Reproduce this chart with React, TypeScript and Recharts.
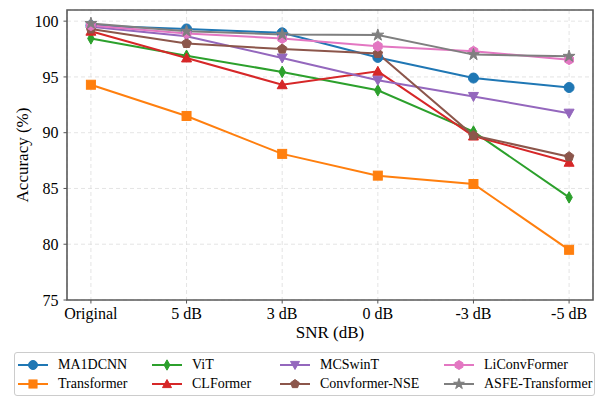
import type { FC, ReactElement } from "react";
import {
  LineChart,
  Line,
  XAxis,
  YAxis,
  CartesianGrid,
  ReferenceArea,
} from "recharts";

// SNR conditions on the x axis
const snrLabels = ["Original", "5 dB", "3 dB", "0 dB", "-3 dB", "-5 dB"];
const yTicks = [75, 80, 85, 90, 95, 100];

// accuracy (%) per model
const ma1dcnn = [99.6, 99.3, 98.95, 96.75, 94.9, 94.05];
const transformer = [94.3, 91.5, 88.1, 86.15, 85.4, 79.5];
const vit = [98.45, 96.9, 95.45, 93.8, 90.1, 84.2];
const clformer = [99.1, 96.7, 94.3, 95.5, 89.7, 87.35];
const mcswint = [99.5, 98.65, 96.7, 94.7, 93.25, 91.75];
const convformerNse = [99.3, 98.0, 97.5, 97.1, 89.75, 87.85];
const liconvformer = [99.6, 98.9, 98.45, 97.75, 97.3, 96.55];
const asfeTransformer = [99.8, 99.1, 98.8, 98.75, 97.0, 96.85];

type MarkerKind = "circle" | "square" | "thinDiamond" | "triUp" | "triDown" | "pentagon" | "hexagon" | "star";

interface Series {
  key: string;
  name: string;
  values: number[];
  color: string;
  marker: MarkerKind;
}

const series: Series[] = [
  { key: "ma1dcnn", name: "MA1DCNN", values: ma1dcnn, color: "#1f77b4", marker: "circle" },
  { key: "transformer", name: "Transformer", values: transformer, color: "#ff7f0e", marker: "square" },
  { key: "vit", name: "ViT", values: vit, color: "#2ca02c", marker: "thinDiamond" },
  { key: "clformer", name: "CLFormer", values: clformer, color: "#d62728", marker: "triUp" },
  { key: "mcswint", name: "MCSwinT", values: mcswint, color: "#9467bd", marker: "triDown" },
  { key: "convformerNse", name: "Convformer-NSE", values: convformerNse, color: "#8c564b", marker: "pentagon" },
  { key: "liconvformer", name: "LiConvFormer", values: liconvformer, color: "#e377c2", marker: "hexagon" },
  { key: "asfeTransformer", name: "ASFE-Transformer", values: asfeTransformer, color: "#7f7f7f", marker: "star" },
];

const data = snrLabels.map((label, i) => {
  const row: Record<string, number | string> = { x: i, label };
  series.forEach((s) => {
    row[s.key] = s.values[i];
  });
  return row;
});

const FONT = "Liberation Serif, Tinos, DejaVu Serif, serif";
const MARKER_SIZE = 10;

const polygon = (cx: number, cy: number, r: number, n: number, rot: number) =>
  Array.from({ length: n }, (_, k) => {
    const a = rot + (k * 2 * Math.PI) / n;
    return `${cx + r * Math.cos(a)},${cy + r * Math.sin(a)}`;
  }).join(" ");

const starPoints = (cx: number, cy: number, r: number) =>
  Array.from({ length: 10 }, (_, k) => {
    const a = -Math.PI / 2 + (k * Math.PI) / 5;
    const rr = k % 2 === 0 ? r : r * 0.382;
    return `${cx + rr * Math.cos(a)},${cy + rr * Math.sin(a)}`;
  }).join(" ");

const Marker: FC<{ kind: MarkerKind; cx: number; cy: number; color: string; size?: number }> = ({
  kind,
  cx,
  cy,
  color,
  size = MARKER_SIZE,
}) => {
  const h = size / 2;
  const common = { fill: color, stroke: color, strokeWidth: 1 };
  switch (kind) {
    case "circle":
      return <circle cx={cx} cy={cy} r={h} {...common} />;
    case "square":
      return <rect x={cx - h * 0.9} y={cy - h * 0.9} width={size * 0.9} height={size * 0.9} {...common} />;
    case "thinDiamond":
      return (
        <polygon
          points={`${cx},${cy - h * 1.15} ${cx + h * 0.65},${cy} ${cx},${cy + h * 1.15} ${cx - h * 0.65},${cy}`}
          {...common}
        />
      );
    case "triUp":
      return <polygon points={`${cx},${cy - h} ${cx + h},${cy + h * 0.8} ${cx - h},${cy + h * 0.8}`} {...common} />;
    case "triDown":
      return <polygon points={`${cx},${cy + h} ${cx + h},${cy - h * 0.8} ${cx - h},${cy - h * 0.8}`} {...common} />;
    case "pentagon":
      return <polygon points={polygon(cx, cy, h, 5, -Math.PI / 2)} {...common} />;
    case "hexagon":
      return <polygon points={polygon(cx, cy, h, 6, -Math.PI / 2)} {...common} />;
    case "star":
      return <polygon points={starPoints(cx, cy, h * 1.25)} {...common} />;
  }
};

const legendCols = [18, 152, 280, 444];
const legendRows = [364, 383];

const ChartLegend: FC = () => (
  <div
    style={{
      position: "absolute",
      left: 14,
      top: 352,
      width: 581,
      height: 44,
      border: "1px solid #cccccc",
      borderRadius: 3,
      boxSizing: "border-box",
      background: "rgba(255,255,255,0.8)",
    }}
  >
    {series.map((s, i) => {
      const col = Math.floor(i / 2);
      const row = i % 2;
      return (
        <div
          key={s.key}
          style={{
            position: "absolute",
            left: legendCols[col] - 15,
            top: legendRows[row] - 352 - 10,
            height: 20,
            display: "flex",
            alignItems: "center",
            whiteSpace: "nowrap",
          }}
        >
          <svg width={30} height={14}>
            <line x1={0} y1={7} x2={30} y2={7} stroke={s.color} strokeWidth={2} />
            <Marker kind={s.marker} cx={15} cy={7} color={s.color} size={9} />
          </svg>
          <span style={{ marginLeft: 10, fontFamily: FONT, fontSize: 14, color: "#000" }}>{s.name}</span>
        </div>
      );
    })}
  </div>
);

export default function App() {
  return (
    <div style={{ position: "absolute", left: 0, top: 0, width: 606, height: 401, background: "#fff", fontFamily: FONT }}>
      <LineChart width={606} height={401} data={data} margin={{ top: 10, right: 13, left: 0, bottom: 61 }}>
        <CartesianGrid stroke="#dddddd" strokeDasharray="4 3" strokeWidth={0.8} />
        <XAxis
          dataKey="x"
          type="number"
          domain={[-0.25, 5.25]}
          ticks={[0, 1, 2, 3, 4, 5]}
          interval={0}
          tickFormatter={(v: number) => snrLabels[v] ?? ""}
          height={40}
          axisLine={false}
          tickLine={{ stroke: "#555" }}
          tickSize={3.5}
          tickMargin={4.5}
          tick={{ fill: "#000", fontSize: 16, fontFamily: FONT }}
          label={{ value: "SNR (dB)", position: "insideBottom", offset: 2, fill: "#000", fontSize: 17, fontFamily: FONT }}
        />
        <YAxis
          type="number"
          domain={[75, 101]}
          ticks={yTicks}
          interval={0}
          width={67}
          axisLine={false}
          tickLine={{ stroke: "#555" }}
          tickSize={3.5}
          tickMargin={5}
          tick={{ fill: "#000", fontSize: 16, fontFamily: FONT }}
          label={{
            content: (props: any): ReactElement => {
              const vb = props.viewBox ?? { x: 0, y: 10, width: 67, height: 290 };
              const cx = 22;
              const cy = vb.y + vb.height / 2;
              return (
                <text
                  x={cx}
                  y={cy}
                  transform={`rotate(-90 ${cx} ${cy})`}
                  textAnchor="middle"
                  dominantBaseline="central"
                  fill="#000"
                  fontSize={17}
                  fontFamily={FONT}
                >
                  Accuracy (%)
                </text>
              );
            },
          }}
        />
        {series.map((s) => (
          <Line
            key={s.key}
            dataKey={s.key}
            name={s.name}
            type="linear"
            stroke={s.color}
            strokeWidth={2}
            isAnimationActive={false}
            activeDot={false}
            dot={(p: any) => (
              <Marker key={`${s.key}-${p.index}`} kind={s.marker} cx={p.cx} cy={p.cy} color={s.color} />
            )}
          />
        ))}
        <ReferenceArea x1={-0.25} x2={5.25} y1={75} y2={101} fill="none" fillOpacity={0} stroke="#5a5a5a" strokeWidth={1.6} />
      </LineChart>
      <ChartLegend />
    </div>
  );
}
